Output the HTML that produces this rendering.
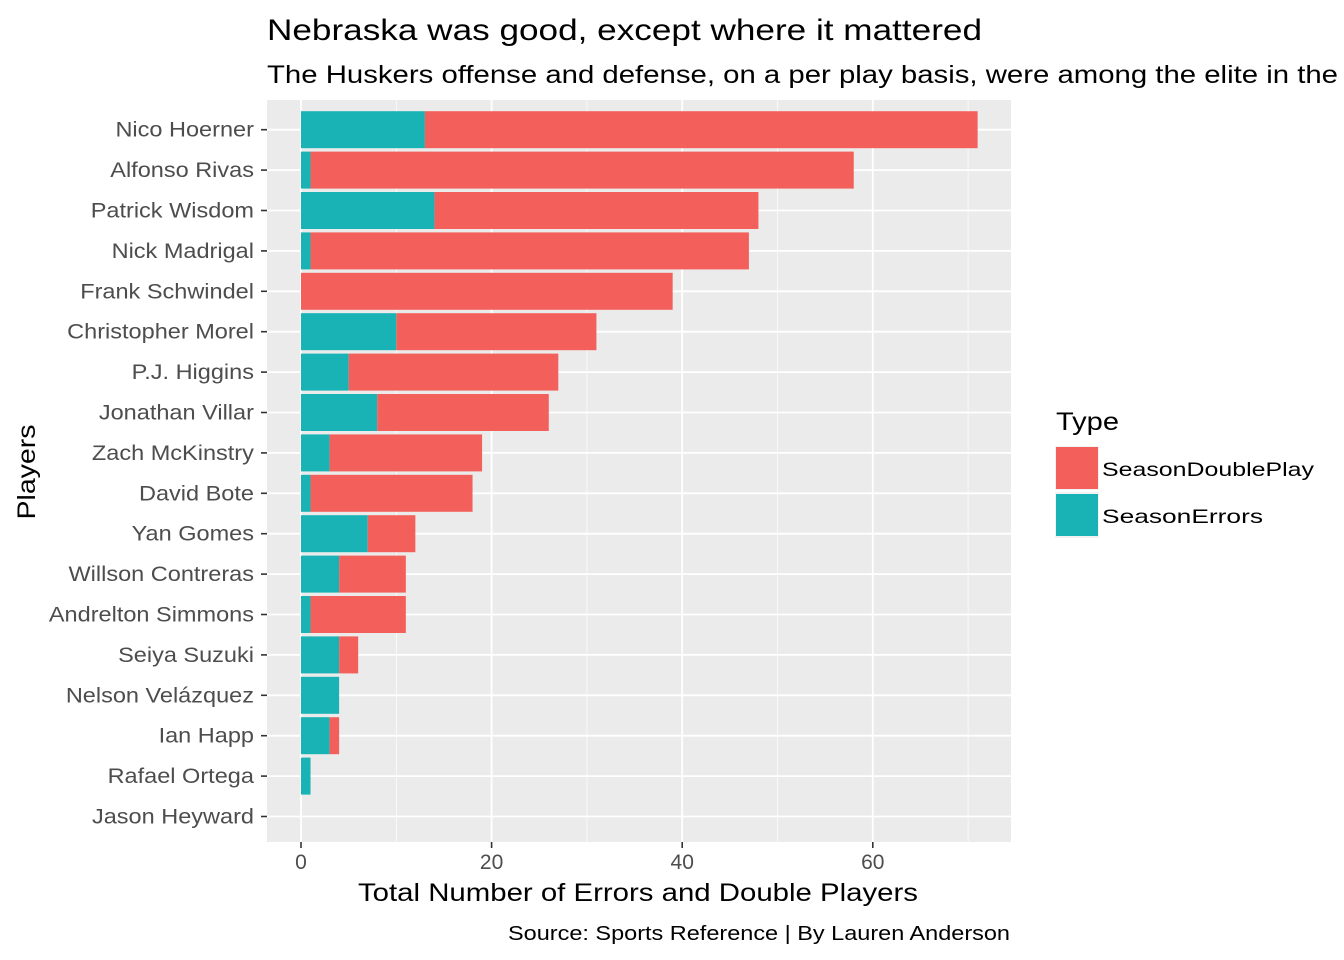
<!DOCTYPE html>
<html><head><meta charset="utf-8"><style>
body{margin:0;background:#fff}
svg{display:block;font-family:"Liberation Sans",Arial,sans-serif}
</style></head><body>
<svg id="chart" width="1344" height="960" viewBox="0 0 1344 960" xmlns="http://www.w3.org/2000/svg">
<text x="267" y="40" font-size="30" textLength="715" lengthAdjust="spacingAndGlyphs" fill="#000">Nebraska was good, except where it mattered</text>
<text x="267" y="83" font-size="25" textLength="1071" lengthAdjust="spacingAndGlyphs" fill="#000">The Huskers offense and defense, on a per play basis, were among the elite in the</text>
<rect x="267" y="100" width="744" height="742" fill="#ebebeb"/>
<g id="grid"></g>
<g id="bars"></g>
<g id="axes"></g>
<text x="638" y="901" font-size="25" textLength="560" lengthAdjust="spacingAndGlyphs" text-anchor="middle" fill="#000">Total Number of Errors and Double Players</text>
<text x="0" y="0" font-size="25" textLength="95" lengthAdjust="spacingAndGlyphs" text-anchor="middle" fill="#000" transform="translate(35,472) rotate(-90)">Players</text>
<g>
<text x="1056" y="430" font-size="25" textLength="63" lengthAdjust="spacingAndGlyphs" fill="#000">Type</text>
<rect x="1055" y="446" width="44" height="44" fill="#f2f2f2"/>
<rect x="1056" y="447" width="42" height="42" fill="#f3605b"/>
<text x="1102" y="476" font-size="19.5" textLength="212" lengthAdjust="spacingAndGlyphs" fill="#000">SeasonDoublePlay</text>
<rect x="1055" y="492" width="44" height="46" fill="#f2f2f2"/>
<rect x="1056" y="494" width="42" height="42" fill="#19b3b6"/>
<text x="1102" y="523" font-size="19.5" textLength="161" lengthAdjust="spacingAndGlyphs" fill="#000">SeasonErrors</text>
</g>
<text x="1010" y="940" font-size="20" textLength="502" lengthAdjust="spacingAndGlyphs" text-anchor="end" fill="#000">Source: Sports Reference | By Lauren Anderson</text>
</svg>
<script>
const players = ["Nico Hoerner","Alfonso Rivas","Patrick Wisdom","Nick Madrigal","Frank Schwindel","Christopher Morel","P.J. Higgins","Jonathan Villar","Zach McKinstry","David Bote","Yan Gomes","Willson Contreras","Andrelton Simmons","Seiya Suzuki","Nelson Velázquez","Ian Happ","Rafael Ortega","Jason Heyward"];
const errors = [13,1,14,1,0,10,5,8,3,1,7,4,1,4,4,3,1,0];
const doublePlays = [58,57,34,46,39,21,22,18,16,17,5,7,10,2,0,1,0,0];
const xTicks = [0,20,40,60];
const xMinor = [10,30,50,70];

const NS="http://www.w3.org/2000/svg";
const X0=301, PX=9.53, Y0=816.5, RS=40.4, BW=37;
const xs=v=>X0+v*PX;
const ys=i=>Y0-(players.length-1-i)*RS;
function mk(tag,attrs,parent){const e=document.createElementNS(NS,tag);for(const k in attrs)e.setAttribute(k,attrs[k]);parent.appendChild(e);return e;}
const grid=document.getElementById('grid'),bars=document.getElementById('bars'),axes=document.getElementById('axes');
xMinor.forEach(v=>{const l=mk('line',{x1:xs(v),x2:xs(v),y1:100,y2:842,stroke:'#fff','stroke-width':0.7},grid);

});
xTicks.forEach(v=>{const l=mk('line',{x1:xs(v),x2:xs(v),y1:100,y2:842,stroke:'#fff','stroke-width':1.8},grid);


const t=mk('line',{x1:xs(v),x2:xs(v),y1:842,y2:848,stroke:'#333','stroke-width':1.6},axes);


const tx=mk('text',{x:xs(v),y:869,'font-size':21,'text-anchor':'middle',fill:'#4d4d4d'},axes);tx.textContent=v;

});
players.forEach((p,i)=>{const y=ys(i);
const l=mk('line',{x1:267,x2:1011,y1:y,y2:y,stroke:'#fff','stroke-width':1.8},grid);


const t=mk('line',{x1:261,x2:267,y1:y,y2:y,stroke:'#333','stroke-width':1.6},axes);


const tx=mk('text',{x:254,y:y+7,'font-size':21,'text-anchor':'end',fill:'#4d4d4d',style:'transform-box:fill-box;transform-origin:100% 50%;transform:scaleX(1.12)'},axes);tx.textContent=p;


const e=errors[i],d=doublePlays[i];
if(e>0){const r=mk('rect',{x:xs(0),y:y-BW/2,width:xs(e)-xs(0),height:BW,fill:'#19b3b6'},bars);

}
if(d>0){const r=mk('rect',{x:xs(e),y:y-BW/2,width:xs(e+d)-xs(e),height:BW,fill:'#f3605b'},bars);

}
});
</script>
</body></html>
